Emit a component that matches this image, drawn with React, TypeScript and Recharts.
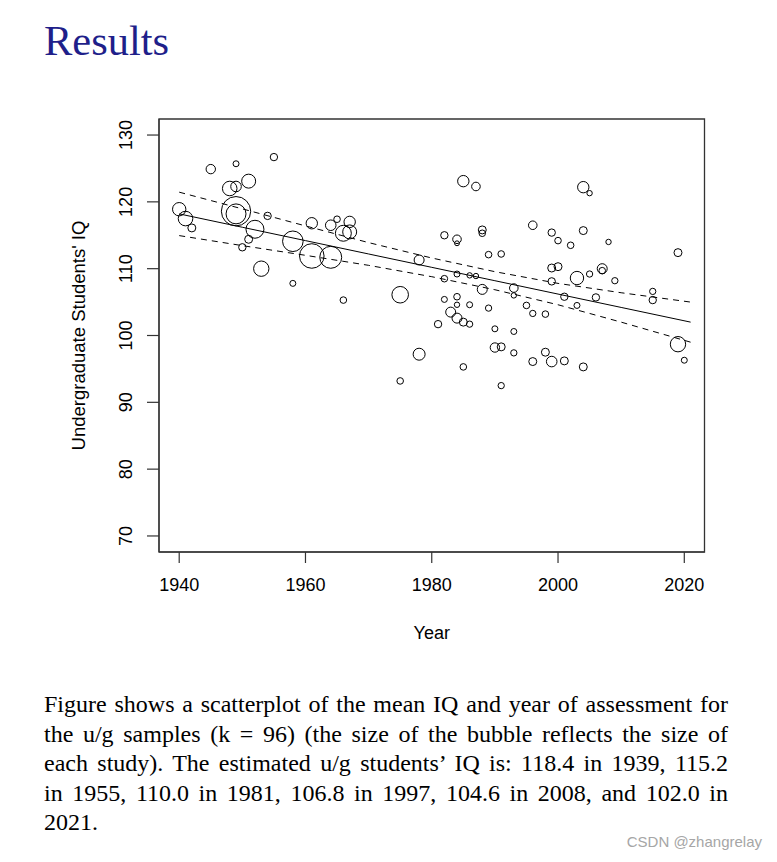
import React from "react";
import {
  ScatterChart,
  Scatter,
  XAxis,
  YAxis,
  ZAxis,
  ReferenceArea,
} from "recharts";

// studies: year of assessment, mean IQ, relative study size (bubble area)
const studyYears = [
  1955, 1945, 1949, 1948, 1949, 1951, 1940, 1941, 1942, 1949,
  1949, 1954, 1952, 1951, 1950, 1953, 1958, 1958, 1961, 1961,
  1964, 1964, 1965, 1966, 1967, 1966, 1967, 1978, 1975, 1978,
  1975, 1985, 1987, 1982, 1984, 1984, 1988, 1988, 1996, 1989,
  1991, 1982, 1984, 1986, 1987, 1988, 1993, 1993, 1982, 1984,
  1984, 1986, 1989, 1995, 1996, 1983, 1984, 1985, 1986, 1981,
  1990, 1993, 1990, 1991, 1993, 1996, 1985, 1991, 2004, 2005,
  1999, 2000, 2002, 2004, 2008, 2019, 1999, 2000, 1999, 2003,
  2005, 2007, 2007, 2009, 2015, 2015, 2001, 2006, 2003, 1998,
  2019, 2020, 1998, 1999, 2001, 2004,
];

const studyIQ = [
  126.7, 124.9, 125.7, 122.0, 122.3, 123.1, 118.9, 117.5, 116.1, 118.6,
  118.2, 117.9, 115.9, 114.4, 113.2, 110.0, 114.1, 107.8, 116.8, 111.9,
  111.7, 116.5, 117.4, 105.3, 117.0, 115.3, 115.5, 111.3, 106.1, 97.2,
  93.2, 123.1, 122.3, 115.0, 114.4, 113.8, 115.8, 115.3, 116.5, 112.1,
  112.2, 108.5, 109.2, 109.0, 108.9, 106.9, 107.1, 106.0, 105.4, 105.8,
  104.6, 104.6, 104.1, 104.5, 103.3, 103.5, 102.6, 102.0, 101.7, 101.7,
  101.0, 100.6, 98.2, 98.3, 97.4, 96.1, 95.3, 92.5, 122.2, 121.3,
  115.4, 114.2, 113.5, 115.7, 114.0, 112.4, 110.1, 110.3, 108.1, 108.6,
  109.2, 110.0, 109.7, 108.2, 106.6, 105.3, 105.8, 105.7, 104.5, 103.2,
  98.7, 96.3, 97.5, 96.1, 96.2, 95.3,
];

const studySize = [
  137, 221, 90, 533, 281, 490, 449, 533, 160, 2161,
  1000, 137, 810, 160, 137, 593, 1061, 90, 325, 1513,
  1210, 281, 109, 109, 325, 640, 490, 250, 689, 360,
  109, 325, 185, 137, 185, 60, 160, 109, 185, 109,
  109, 109, 90, 73, 73, 250, 185, 73, 90, 109,
  73, 90, 100, 109, 100, 250, 250, 160, 100, 137,
  90, 90, 221, 160, 100, 160, 109, 100, 325, 73,
  137, 109, 109, 160, 73, 160, 160, 160, 137, 449,
  100, 250, 109, 100, 100, 137, 137, 137, 90, 109,
  593, 90, 160, 281, 160, 160,
];

// meta-regression line and its confidence band
const fitYears = [1940, 1950, 1960, 1970, 1980, 1990, 2000, 2010, 2021];
const fitIQ = [118.2, 116.2, 114.2, 112.2, 110.2, 108.2, 106.2, 104.2, 102.0];
const upperIQ = [121.45, 118.95, 116.4, 113.9, 111.6, 109.55, 107.8, 106.4, 105.0];
const lowerIQ = [114.95, 113.45, 112.0, 110.5, 108.8, 106.85, 104.6, 102.0, 99.0];

const xTicks = [1940, 1960, 1980, 2000, 2020];
const yTicks = [70, 80, 90, 100, 110, 120, 130];

const captionLines = [
  "Figure shows a scatterplot of the mean IQ and year of assessment for",
  "the u/g samples (k = 96) (the size of the bubble reflects the size of",
  "each study). The estimated u/g students\u2019 IQ is: 118.4 in 1939, 115.2",
  "in 1955, 110.0 in 1981, 106.8 in 1997, 104.6 in 2008, and 102.0 in",
  "2021.",
];

const studies = studyYears.map((year, i) => ({
  year,
  iq: studyIQ[i],
  n: studySize[i],
}));
const fitLine = fitYears.map((year, i) => ({ year, iq: fitIQ[i] }));
const upperLine = fitYears.map((year, i) => ({ year, iq: upperIQ[i] }));
const lowerLine = fitYears.map((year, i) => ({ year, iq: lowerIQ[i] }));

const SANS = "'Liberation Sans', Arial, sans-serif";
const SERIF = "'Liberation Serif', 'Times New Roman', serif";

function Bubble(props: any) {
  const { cx, cy, size, width } = props;
  if (cx == null || cy == null) return <g />;
  const r = size != null ? Math.sqrt(size / Math.PI) : width / 2;
  return <circle cx={cx} cy={cy} r={r} fill="none" stroke="#000" strokeWidth={1} />;
}

const NoDot = () => <g />;

function XTick({ x, y, payload }: any) {
  return (
    <text x={x} y={y + 28} textAnchor="middle" fontSize={18} fill="#000" fontFamily={SANS}>
      {payload.value}
    </text>
  );
}

function YTick({ x, y, payload }: any) {
  const tx = x - 15;
  return (
    <text
      x={tx}
      y={y}
      transform={`rotate(-90 ${tx} ${y})`}
      textAnchor="middle"
      fontSize={18}
      fill="#000"
      fontFamily={SANS}
    >
      {payload.value}
    </text>
  );
}

export default function App() {
  return (
    <div
      style={{
        position: "absolute",
        left: 0,
        top: 0,
        width: 777,
        height: 862,
        background: "#fff",
        overflow: "hidden",
      }}
    >
      <div
        style={{
          position: "absolute",
          left: 44,
          top: 20,
          fontFamily: SERIF,
          fontSize: 42.5,
          lineHeight: "42px",
          color: "#1f1f8a",
          whiteSpace: "nowrap",
        }}
      >
        Results
      </div>

      <div style={{ position: "absolute", left: 0, top: 0 }}>
        <ScatterChart
          width={777}
          height={660}
          margin={{ top: 119, right: 72.5, bottom: 58, left: 99 }}
        >
          <XAxis
            type="number"
            dataKey="year"
            domain={[1936.8, 2023.2]}
            ticks={xTicks}
            interval={0}
            allowDataOverflow
            height={50}
            tickSize={11}
            tickMargin={0}
            tick={<XTick />}
            tickLine={{ stroke: "#333", strokeWidth: 1.2 }}
            axisLine={{ stroke: "#333", strokeWidth: 1.2 }}
            label={{
              content: ({ viewBox }: any) => (
                <text
                  x={viewBox.x + viewBox.width / 2}
                  y={639}
                  textAnchor="middle"
                  fontSize={18}
                  fontFamily={SANS}
                  fill="#000"
                >
                  Year
                </text>
              ),
            }}
          />
          <YAxis
            type="number"
            dataKey="iq"
            domain={[67.6, 132.4]}
            ticks={yTicks}
            interval={0}
            allowDataOverflow
            width={60}
            tickSize={12}
            tickMargin={0}
            tick={<YTick />}
            tickLine={{ stroke: "#333", strokeWidth: 1.2 }}
            axisLine={{ stroke: "#333", strokeWidth: 1.2 }}
            label={{
              content: ({ viewBox }: any) => {
                const cy = viewBox.y + viewBox.height / 2;
                return (
                  <text
                    x={85}
                    y={cy}
                    transform={`rotate(-90 85 ${cy})`}
                    textAnchor="middle"
                    fontSize={18.5}
                    fontFamily={SANS}
                    fill="#000"
                  >
                    Undergraduate Students' IQ
                  </text>
                );
              },
            }}
          />
          <ZAxis type="number" dataKey="n" domain={[0, 2200]} range={[0, Math.PI * 14.8 * 14.8]} />
          <ReferenceArea
            x1={1936.8}
            x2={2023.2}
            y1={67.6}
            y2={132.4}
            fill="none"
            fillOpacity={0}
            stroke="#333"
            strokeWidth={1.3}
            ifOverflow="visible"
          />
          <Scatter data={studies} shape={<Bubble />} isAnimationActive={false} />
          <Scatter
            data={fitLine}
            line={{ stroke: "#000", strokeWidth: 1 }}
            shape={<NoDot />}
            isAnimationActive={false}
          />
          <Scatter
            data={upperLine}
            line={{ stroke: "#000", strokeWidth: 1, strokeDasharray: "6 5" }}
            shape={<NoDot />}
            isAnimationActive={false}
          />
          <Scatter
            data={lowerLine}
            line={{ stroke: "#000", strokeWidth: 1, strokeDasharray: "6 5" }}
            shape={<NoDot />}
            isAnimationActive={false}
          />
        </ScatterChart>
      </div>

      {captionLines.map((line, i) => (
        <div
          key={i}
          style={{
            position: "absolute",
            left: 44,
            top: 689 + i * 29.6,
            width: 684,
            fontFamily: SERIF,
            fontSize: 24,
            lineHeight: "30px",
            color: "#000",
            whiteSpace: "nowrap",
            textAlign: i < captionLines.length - 1 ? "justify" : "left",
            textAlignLast: i < captionLines.length - 1 ? "justify" : "left",
          }}
        >
          {line}
        </div>
      ))}

      <div
        style={{
          position: "absolute",
          right: 15,
          top: 833,
          fontFamily: SANS,
          fontSize: 15,
          color: "#a6a6a6",
          whiteSpace: "nowrap",
        }}
      >
        CSDN @zhangrelay
      </div>
    </div>
  );
}
